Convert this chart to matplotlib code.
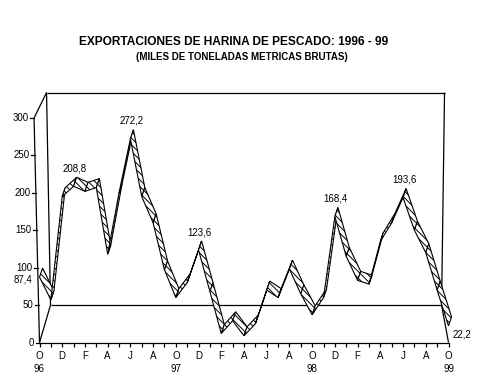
import matplotlib
matplotlib.use('Agg')
import matplotlib.pyplot as plt
from matplotlib.patches import Polygon

# ---------------- data ----------------
values = [87.4, 57, 195, 208.8, 202, 207, 118, 200, 272.2, 195, 160, 97,
          60, 80, 123.6, 68, 12, 29, 9, 25, 70, 60, 98, 65,
          37, 60, 168.4, 115, 83, 78, 135, 160, 193.6, 150, 120, 70,
          22.2]
month_letters = ['O', 'N', 'D', 'E', 'F', 'M', 'A', 'M', 'J', 'J', 'A', 'S']
years = ['96', '97', '98', '99']
point_labels = {0: '87,4', 3: '208,8', 8: '272,2', 14: '123,6',
                26: '168,4', 32: '193,6', 36: '22,2'}
y_ticks = [0, 50, 100, 150, 200, 250, 300]

title = 'EXPORTACIONES DE HARINA DE PESCADO: 1996 - 99'
subtitle = '(MILES DE TONELADAS METRICAS BRUTAS)'

# ---------------- layout ----------------
W, H = 479, 377
plt.rcParams['font.family'] = ['Liberation Sans', 'DejaVu Sans']
plt.rcParams['hatch.linewidth'] = 0.7
fig = plt.figure(figsize=(W / 100, H / 100), dpi=100)
ax = fig.add_axes([39.5 / W, (H - 342.5) / H, 409 / W, (342.5 - 118) / H])
n = len(values)
ax.set_xlim(0, n - 1)
ax.set_ylim(0, 300)

# 3-D depth offsets (in data units)
DX, DY = 0.27, 12           # ribbon depth
FX, FY = 0.97, 50           # floor depth
TOP = 334                   # back wall top
SLANT = -0.48               # perspective lean of front-left edge at 300

lw = 0.9
# walls / floor outline
wall_lines = [
    ([0, SLANT], [0, 300]),                 # front-left edge
    ([SLANT, 0.62], [300, TOP]),            # top-left diagonal
    ([0.62, n - 1 - 0.35], [TOP, TOP]),     # back top
    ([n - 1 - 0.35, n - 1 - 0.61], [TOP, FY]),  # back right edge
    ([0.62, FX], [TOP, FY]),                # back left edge
    ([FX, n - 1 - 0.61], [FY, FY]),         # floor back edge
    ([0, FX], [0, FY]),                     # floor left diagonal
    ([n - 1, n - 1 - 0.61], [0, FY]),       # floor right diagonal
]
for xs, ys in wall_lines:
    ax.plot(xs, ys, color='black', lw=lw, clip_on=False, zorder=1,
            solid_capstyle='butt')

# ribbon
xs = list(range(n))
for i in range(n - 1):
    pts = [(xs[i], values[i]), (xs[i + 1], values[i + 1]),
           (xs[i + 1] + DX, values[i + 1] + DY), (xs[i] + DX, values[i] + DY)]
    ax.add_patch(Polygon(pts, closed=True, facecolor='white',
                         edgecolor='black', lw=0.8, hatch='\\\\\\\\\\',
                         clip_on=False, zorder=3 + i * 0.01))

# point labels
for i, txt in point_labels.items():
    if i == 0:
        ax.annotate(txt, (xs[i], values[i]), xytext=(-7, -2),
                    textcoords='offset pixels', ha='right', va='center',
                    fontsize=7, zorder=10, annotation_clip=False)
    elif i == n - 1:
        ax.annotate(txt, (xs[i], values[i]), xytext=(4, -9),
                    textcoords='offset pixels', ha='left', va='center',
                    fontsize=7, zorder=10, annotation_clip=False)
    else:
        ax.annotate(txt, (xs[i], values[i]), xytext=(1, 18),
                    textcoords='offset pixels', ha='center', va='center',
                    fontsize=7, zorder=10, annotation_clip=False)

# y axis (slanted front edge, manual ticks)
for v in y_ticks:
    x0 = SLANT * v / 300
    ax.plot([x0 - 0.35, x0], [v, v], color='black', lw=lw, clip_on=False,
            zorder=1)
    ax.text(x0 - 0.45, v, str(v), ha='right', va='center', fontsize=7)

# x axis
for s in ['left', 'right', 'top']:
    ax.spines[s].set_visible(False)
ax.spines['bottom'].set_linewidth(lw)
ax.set_yticks([])
ax.set_xticks(range(n), minor=True)
major = list(range(0, n, 2))
labels = []
for i in major:
    lab = month_letters[i % 12]
    if i % 12 == 0:
        lab += '\n' + years[i // 12]
    labels.append(lab)
ax.set_xticks(major)
ax.set_xticklabels(labels, fontsize=7, linespacing=1.45, va='top')
ax.tick_params(axis='x', which='both', direction='out', length=3,
               width=lw, pad=3)

fig.text(234 / W, 1 - 42 / H, title, ha='center', va='center',
         fontsize=8.6, fontweight='bold')
fig.text(242 / W, 1 - 57 / H, subtitle, ha='center', va='center',
         fontsize=7, fontweight='bold')

fig.savefig('out.png', dpi=100)
